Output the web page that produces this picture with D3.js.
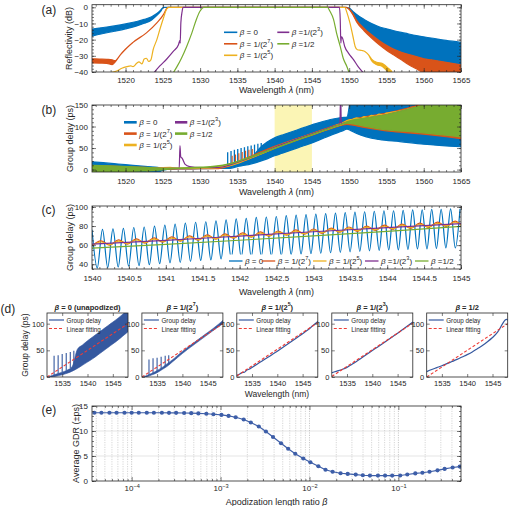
<!DOCTYPE html>
<html><head><meta charset="utf-8">
<script src="https://cdn.jsdelivr.net/npm/d3@7/dist/d3.min.js"></script>
<style>
html,body{margin:0;padding:0;background:#fff;}
svg{display:block;}
</style></head>
<body>
<svg id="chart" width="510" height="506"></svg>
<script>
// ===================== DATA =====================
const seriesColors = ['#0072BD','#D95319','#EDB120','#7E2F8E','#77AC30'];
const legendLabels = [
  [{t:'β',i:1},{t:' = 0'}],
  [{t:'β',i:1},{t:' = 1/(2'},{t:'7',s:1},{t:')'}],
  [{t:'β',i:1},{t:' = 1/(2'},{t:'5',s:1},{t:')'}],
  [{t:'β',i:1},{t:' =1/(2'},{t:'3',s:1},{t:')'}],
  [{t:'β',i:1},{t:' =1/2'}]
];

// (a) reflectivity, [wavelength nm, upper dB, lower dB]
const aXMajor = [1520,1525,1530,1535,1540,1545,1550,1555,1560,1565];
const aYMajor = [-40,-30,-20,-10,0];
const aBlue = [[1515.5,-13.5,-17.8],[1517,-12.5,-16.2],[1518.5,-11.5,-14.8],[1520,-10.3,-13.3],[1521.5,-8.8,-11.5],[1522.5,-7.5,-9.9],[1523.5,-5.8,-7.8],[1524.2,-3.8,-5],[1524.7,-1.8,-2.5],[1525.1,0,0],[1549.5,0,0],[1550,-0.5,-1],[1550.5,-2.5,-4],[1551,-4.5,-8],[1552,-7.5,-13],[1553,-10,-17],[1554,-12,-20.5],[1555,-13.3,-23.5],[1556,-14.5,-26],[1557.5,-16,-28.5],[1559,-17.5,-30.5],[1561,-19,-32.5],[1563,-20.5,-34],[1565,-21.7,-35.6]];
const aOrange = [[1515.5,-31.8,-34.3],[1516.5,-32,-34.5],[1517.5,-32.2,-34.7],[1518.2,-32.5,-35.4],[1518.6,-33,-33.8],[1519.3,-29.4,-29.4],[1521.0,-21.7,-21.7],[1522.8,-15.8,-15.8],[1524.2,-9.6,-9.6],[1525.1,-4.4,-4.4],[1525.5,-0.8,-0.8],[1525.7,0,0],[1549.6,0,0],[1550,-1,-1.3],[1550.5,-4,-4.6],[1551,-8,-9],[1552,-13,-14.5],[1553,-17,-19],[1554,-20.5,-23],[1555,-23.5,-26.5],[1556,-26,-29.5],[1557,-27.8,-32.5],[1558,-29.2,-35.5],[1559,-30.5,-38],[1560,-31.8,-40.5],[1561,-32.5,-42],[1563,-34,-42],[1565,-35.6,-42]];
const aYellow = [[1517.9,-40.5],[1518.8,-39.4],[1519.5,-37.7],[1520.2,-36.7],[1520.7,-36.25],[1521.0,-36.7],[1521.5,-34.6],[1521.8,-33.75],[1522.2,-35],[1522.5,-32],[1522.8,-31.5],[1523.1,-33.5],[1523.4,-32.5],[1523.7,-26.25],[1524.2,-20],[1524.6,-13.75],[1525.1,-6.5],[1525.5,-1.25],[1525.8,0],[1549.4,0],[1549.7,-3.3],[1550.1,-9.6],[1550.5,-17.9],[1550.8,-24.2],[1551.1,-26.25],[1551.7,-26.7],[1552.1,-27.3],[1552.6,-29.4],[1553.0,-32,-33],[1553.7,-34,-35.5],[1554.4,-34.6,-36.5],[1554.8,-35.8,-38],[1555.2,-37.5,-40],[1555.7,-39.5,-41]];
const aPurple = [[1523.8,-40.5],[1524.6,-36.25],[1525.5,-32.1],[1526.4,-27.3],[1527.1,-23.1],[1527.3,-20.4],[1527.33,-22.1],[1527.42,-9.6],[1527.6,-2.3],[1527.7,0],[1548.7,0],[1548.8,-7.5],[1548.88,-22.1],[1548.95,-18.3],[1549.1,-19],[1549.4,-24.2],[1549.9,-28.3],[1550.6,-32.5],[1551.2,-36.7],[1551.9,-40.5]];
const aGreen = [[1526.4,-40.5],[1526.9,-36.7],[1527.5,-31.5],[1528.2,-24.2],[1528.9,-15.8],[1529.5,-7.5],[1530.0,-2.3],[1530.5,0],[1547.1,0],[1547.4,-2.3],[1547.9,-7.5],[1548.3,-15.8],[1548.8,-24.2],[1549.2,-31.5],[1549.7,-36.7],[1550.0,-40.5]];

// (b) group delay, [wavelength, upper ps, lower ps]
const bYMajor = [0,50,100,150];
const bHighlight = [1540,1545];
const bBlue = [[1515.5,18,-8],[1517,16,-8],[1519,13,-8],[1521,10,-8],[1523,7,-8],[1524.3,5,-6],[1525.2,3,-1],[1526,2.5,1],[1528,2.5,1.5],[1530,3,2],[1532,4,2.5],[1533,6,3],[1534,12,3],[1535,17,7],[1536,22,10],[1537,30,14],[1538,50,19],[1539,64,25],[1540,74,32],[1541,80,38],[1542,86,44],[1543,92,50],[1544,98,56],[1545,104,62],[1546,109,69],[1547,114,76],[1548,118,83],[1549,121,89],[1549.7,122,94],[1550.3,170,90],[1551,170,84],[1552.3,170,76],[1554,170,70],[1556.8,170,65],[1560,170,59],[1565,170,53]];
const bBlueSpikes = [[1533.7,8,40],[1534.15,12,43],[1534.6,14,46],[1535.05,17,48],[1535.5,19,50],[1535.95,22,52],[1536.4,25,54],[1536.85,28,56],[1537.3,32,58],[1537.75,40,60],[1538.2,52,62]];
const bOrange = [[1515.5,9,1],[1518,8,1],[1521,6,1],[1524,4,0.5],[1525.5,3,1],[1528,3,1.5],[1530,3.5,2],[1532,4.5,2],[1533,7,4],[1534,12,9],[1535,18,15],[1536,25,21],[1537,32,28],[1538,40,35],[1539,47,42],[1540,54,49],[1541,60,56],[1542,66,62],[1543,72,68],[1544,78,74],[1545,84,80],[1546,90,86],[1547,96,92],[1548,102,98],[1549,108,103],[1549.7,113,105],[1552,122,98],[1555,131,90],[1557.5,141,86],[1559.6,151,83],[1565,163,72]];
const bOrangeSpikes = [[1534.3,11,32],[1534.75,13,35],[1535.2,16,38],[1535.65,19,41],[1536.1,22,44],[1536.55,26,46],[1537.0,30,48]];
const bYellow = [[1515.5,3,2],[1520,2.5,1.5],[1522.5,1.5,0.5],[1523,-2,-3],[1523.4,1.5,0.5],[1525,4.5,3.5],[1526,5,4],[1527,3.5,2.5],[1530,3.5,2.5],[1532,5,3.5],[1534,11,9],[1536,23,21],[1538,37,35],[1540,52,50],[1542,65,63],[1544,77,75],[1546,89,87],[1548,101,99],[1549.2,109,106],[1549.7,114,110],[1550.5,117,113],[1551,120,114],[1551.5,118,115],[1552,123,117],[1552.5,121,118],[1553,126,120],[1553.5,124,121],[1554,129,123],[1554.5,127,124],[1555,131,126],[1556,134,129],[1557,137,132],[1558,141,136],[1559,145,140],[1560,150,144],[1562,156,150],[1565,165,155]];
const bPurple = [[1515.5,4],[1520,3.5],[1525,3],[1527.2,3],[1527.3,56],[1527.4,30],[1527.6,26],[1528,12],[1528.6,7],[1530,4.5],[1532,4.5],[1533,6],[1534,11],[1536,23],[1538,37],[1540,52],[1542,65],[1544,77],[1546,89],[1548,101],[1548.75,105],[1548.85,170],[1548.95,107],[1549.7,110],[1552,118.5],[1555.1,127.5],[1557.5,137.5],[1559.6,147.5],[1565,160]];
const bGreen = [[1515.5,10,-6],[1518,8.5,-5],[1521,6.5,-4],[1524,4,-2],[1525.5,3,0.5],[1527,3.5,2.5],[1530,5.5,4.5],[1532,8,7],[1534,14,13],[1536,25,24],[1538,37,36],[1540,50,49],[1542,63,62],[1544,75.5,74.5],[1546,88,87],[1548,100,99],[1549.2,107,106],[1549.7,111,108],[1552,119,101],[1555.1,128,92],[1557.5,138,89],[1559.6,148,86],[1565,160,76]];

// (c) zoomed group delay
const cXMajor = [1540,1540.5,1541,1541.5,1542,1542.5,1543,1543.5,1544,1544.5,1545];
const cYMajor = [40,60,80,100];
const cBluePeaks = [[1540.000,76],[1540.142,76.5],[1540.284,77],[1540.425,77.5],[1540.566,78.5],[1540.707,79],[1540.847,80],[1540.987,81],[1541.126,82],[1541.265,83],[1541.404,84],[1541.542,84.5],[1541.680,85.5],[1541.817,86.5],[1541.954,87.5],[1542.090,88],[1542.226,89],[1542.362,89.5],[1542.497,90],[1542.632,91],[1542.766,91.5],[1542.900,92],[1543.033,92.5],[1543.166,93],[1543.299,93.5],[1543.431,94],[1543.563,94.5],[1543.694,95],[1543.825,95.5],[1543.956,96],[1544.086,96],[1544.216,96.5],[1544.345,97],[1544.474,97],[1544.603,97.5],[1544.731,97.5],[1544.859,98],[1544.987,98]];
const cBlueTroughs = [[1540.071,36],[1540.213,36.5],[1540.355,37],[1540.496,38],[1540.637,38.5],[1540.777,39.5],[1540.917,40.5],[1541.057,41.5],[1541.196,42],[1541.335,43],[1541.473,44],[1541.611,44.5],[1541.749,45.5],[1541.886,46],[1542.022,47],[1542.158,47.5],[1542.294,48],[1542.430,48.5],[1542.565,49],[1542.699,50],[1542.833,50.5],[1542.967,51],[1543.100,51.5],[1543.233,52],[1543.365,52.5],[1543.497,53],[1543.629,53.5],[1543.760,54],[1543.891,54.5],[1544.021,55],[1544.151,55],[1544.281,55.5],[1544.410,56],[1544.539,56],[1544.667,56.5],[1544.795,57],[1544.923,57]];
const cOscLam = [1540.00,1540.12,1540.24,1540.36,1540.48,1540.60,1540.72,1540.84,1540.96,1541.08,1541.20,1541.32,1541.44,1541.56,1541.68,1541.80,1541.92,1542.04,1542.16,1542.28,1542.40,1542.52,1542.64,1542.76,1542.88,1543.00,1543.12,1543.24,1543.36,1543.48,1543.60,1543.72,1543.84,1543.96,1544.08,1544.20,1544.32,1544.44,1544.56,1544.68,1544.80,1544.92,1545.00];
const cOrangeV = [59.0,64.5,60.0,65.5,61.1,66.6,62.1,67.6,63.1,68.6,64.2,69.7,65.2,70.7,66.2,71.7,67.3,72.8,68.3,73.8,69.3,74.8,70.4,75.9,71.4,76.9,72.4,77.9,73.5,79.0,74.5,80.0,75.5,81.0,76.6,82.1,77.6,83.1,78.6,84.1,79.7,85.2,81.0];
const cYellowV = [59.6,63.3,60.6,64.3,61.7,65.4,62.7,66.4,63.7,67.4,64.8,68.5,65.8,69.5,66.8,70.5,67.9,71.6,68.9,72.6,69.9,73.6,71.0,74.7,72.0,75.7,73.0,76.7,74.1,77.8,75.1,78.8,76.1,79.8,77.2,80.9,78.2,81.9,79.2,82.9,80.3,84.0,81.4];
const cPurple = [[1540,61],[1541,65],[1542,69.5],[1543,74],[1544,78.3],[1545,82.5]];
const cGreen = [[1540,56.8],[1541,60.8],[1542,65.1],[1543,69.6],[1544,74.4],[1545,79.6]];

// (d) five apodization cases: band [wavelength, upper, lower], spikes [wavelength, base, peak], fit
const dTitles = [
  [{t:'β',i:1},{t:' = 0 (unapodized)'}],
  [{t:'β',i:1},{t:' = 1/(2'},{t:'7',s:1},{t:')'}],
  [{t:'β',i:1},{t:' = 1/(2'},{t:'5',s:1},{t:')'}],
  [{t:'β',i:1},{t:' = 1/(2'},{t:'3',s:1},{t:')'}],
  [{t:'β',i:1},{t:' = 1/2'}]
];
const dXMajor = [1535,1540,1545];
const dYMajor = [0,50,100];
const dGD1 = [[1532.3,0.5,-1],[1533,3,0],[1534,6,2],[1535,9,4],[1536,13,7],[1537,20,11],[1538,52,16],[1539,60,22],[1540,68,28],[1541,75,34],[1542,82,41],[1543,89,48],[1544,96,55],[1545,103,62],[1546,110,69],[1547,118,77],[1548,126,85]];
const dGD2 = [[1532.3,0.5,-1],[1533,3,0.5],[1534,7,4],[1535,12,8],[1536,18,14],[1537,25,20],[1538,32,28],[1539,40,36],[1540,48,44],[1541,55.5,51.5],[1542,62.5,58.5],[1543,69.5,65.5],[1544,76.5,72.5],[1545,83.5,79.5],[1546,90.5,86.5],[1547,98,93.5],[1548,106,100]];
const dGD3 = [[1532,3],[1532.5,5],[1533,8],[1533.5,9],[1534,13],[1534.5,15],[1535,18],[1536,24],[1537,30],[1538,36],[1539,42],[1540,48.5],[1541,55],[1542,61.5],[1543,68],[1544,74.5],[1545,81],[1546,88],[1547,96],[1548,104]];
const dGD4 = [[1532,8],[1533,11],[1534,14],[1535,18],[1536,24],[1537,30],[1538,36.5],[1539,43],[1540,49.5],[1541,56],[1542,62.5],[1543,69],[1544,75.5],[1545,82],[1546,89],[1547,96],[1548,103]];
const dGD5 = [[1532,10],[1533,14],[1534,17.5],[1535,21],[1536,25],[1537,29],[1538,33],[1539,37.5],[1540,42],[1541,47],[1542,53],[1543,59],[1544,66],[1545,74],[1546,84],[1547,100],[1547.5,107],[1547.8,108],[1548,107]];
const dSpikes1 = [[1533.4,4,40],[1534.2,6,41],[1535.0,9,43],[1535.8,12,45],[1536.6,17,47],[1537.3,22,49]];
const dSpikes2 = [[1533.4,4,33],[1534.2,7,35],[1535.0,10,36],[1535.8,14,38],[1536.6,19,40],[1537.3,23,41]];
const dFit1 = [[1532,0],[1548,100]];
const dFit2 = [[1532,0],[1548,100]];
const dFit3 = [[1532,2],[1548,102]];
const dFit4 = [[1532,1],[1548,101]];
const dFit5 = [[1532,0],[1548,100]];

// (e) average group delay ripple vs apodization ratio
const eLogBeta = [-4.42,-4.34,-4.25,-4.17,-4.08,-4.00,-3.92,-3.83,-3.75,-3.66,-3.58,-3.50,-3.41,-3.33,-3.25,-3.16,-3.08,-2.99,-2.91,-2.83,-2.74,-2.66,-2.57,-2.49,-2.41,-2.32,-2.24,-2.16,-2.07,-1.99,-1.90,-1.82,-1.74,-1.65,-1.57,-1.48,-1.40,-1.32,-1.23,-1.15,-1.07,-0.98,-0.90,-0.81,-0.73,-0.65,-0.56,-0.48,-0.39,-0.31];
const eGDR = [13.65,13.65,13.65,13.65,13.65,13.65,13.65,13.65,13.65,13.65,13.64,13.63,13.6,13.57,13.52,13.45,13.35,13.22,13.02,12.75,12.3,11.7,10.9,9.9,8.8,7.55,6.45,5.45,4.5,3.75,2.95,2.25,1.85,1.55,1.42,1.28,1.15,1.09,1.08,1.08,1.08,1.1,1.3,1.52,1.65,1.85,2.13,2.42,2.7,2.88];
const eXMajor = [1e-4,1e-3,1e-2,1e-1];
const eXMinorMult = [2,3,4,5,6,7,8,9];
const eYMajor = [0,5,10,15];

// ===================== DRAWING =====================
const FONT = '"Liberation Sans", Arial, Helvetica, sans-serif';
const INK = '#262626';
const svg = d3.select('#chart').attr('font-family', FONT);
let clipN = 0;

function rich(sel, parts, fs){
  let up = false;
  parts.forEach(p => {
    const t = sel.append('tspan').text(p.t);
    if (p.i) t.attr('font-style','italic');
    if (p.s) { t.attr('font-size', fs*0.7).attr('dy', -fs*0.38); up = true; }
    else if (up) { t.attr('dy', fs*0.38); up = false; }
  });
}
function plotGroup(x, y){
  const [x0,x1] = x.range(), [yb,yt] = y.range();
  const id = 'clip' + (clipN++);
  svg.append('clipPath').attr('id', id).append('rect')
     .attr('x', x0).attr('y', yt).attr('width', x1-x0).attr('height', yb-yt);
  return svg.append('g').attr('clip-path', `url(#${id})`);
}
function axes(x, y, o){
  const [x0,x1] = x.range(), [yb,yt] = y.range();
  const g = svg.append('g');
  const tl = o.tl || 4, tm = o.tm || 2;
  const mk = (fn, sc, vals, size, tx, ty, fmt, pad) => {
    const a = fn(sc).tickValues(vals).tickSize(size).tickPadding(pad||3).tickFormat(fmt || (() => ''));
    const s = g.append('g').attr('transform', `translate(${tx},${ty})`).call(a);
    s.select('.domain').remove();
    s.attr('font-family', FONT).attr('font-size', o.fs || 8).attr('color', INK);
    s.selectAll('line').attr('stroke-width', 0.6);
    return s;
  };
  if (o.xMinor) { mk(d3.axisBottom, x, o.xMinor, -tm, 0, yb); mk(d3.axisTop, x, o.xMinor, -tm, 0, yt); }
  if (o.yMinor) { mk(d3.axisLeft, y, o.yMinor, -tm, x0, 0); mk(d3.axisRight, y, o.yMinor, -tm, x1, 0); }
  const bx = mk(d3.axisBottom, x, o.xMajor, -tl, 0, yb, o.xFmt || (d => d), o.px || 5);
  mk(d3.axisTop, x, o.xMajor, -tl, 0, yt);
  mk(d3.axisLeft, y, o.yMajor, -tl, x0, 0, o.yFmt || (d => d), o.py || 4);
  mk(d3.axisRight, y, o.yMajor, -tl, x1, 0);
  g.append('rect').attr('x', x0).attr('y', yt).attr('width', x1-x0).attr('height', yb-yt)
   .attr('fill','none').attr('stroke', INK).attr('stroke-width', 0.8);
  return bx;
}
function band(g, x, y, data, color, sw, curve){
  const ar = d3.area().x(d => x(d[0])).y1(d => y(d[1])).y0(d => y(d.length > 2 ? d[2] : d[1]))
    .curve(curve || d3.curveMonotoneX);
  g.append('path').datum(data).attr('d', ar).attr('fill', color).attr('stroke', color)
   .attr('stroke-width', sw).attr('stroke-linejoin','round');
}
function line(g, x, y, data, color, sw, curve, dash){
  const ln = d3.line().x(d => x(d[0])).y(d => y(d[1])).curve(curve || d3.curveMonotoneX);
  const p = g.append('path').datum(data).attr('d', ln).attr('fill','none').attr('stroke', color)
   .attr('stroke-width', sw).attr('stroke-linejoin','round');
  if (dash) p.attr('stroke-dasharray', dash);
}
function spikes(g, x, y, data, color, sw){
  data.forEach(s => line(g, x, y, [[s[0], s[1]], [s[0], s[2]]], color, sw, d3.curveLinear));
}
function text(xp, yp, str, fs, opts){
  opts = opts || {};
  const t = svg.append('text').attr('x', xp).attr('y', yp).attr('font-size', fs).attr('fill', INK)
    .attr('text-anchor', opts.anchor || 'middle').attr('dominant-baseline', 'central');
  if (opts.rot) t.attr('transform', `rotate(-90,${xp},${yp})`);
  if (opts.bold) t.attr('font-weight','bold');
  if (Array.isArray(str)) rich(t, str, fs); else t.text(str);
  return t;
}
function legendItem(x1, x2, yp, color, sw, parts, fs, dash){
  const l = svg.append('line').attr('x1', x1).attr('x2', x2).attr('y1', yp).attr('y2', yp)
    .attr('stroke', color).attr('stroke-width', sw);
  if (dash) l.attr('stroke-dasharray', dash);
  text(x2 + 2.5, yp, parts, fs, {anchor:'start'});
}
const minus = d => d < 0 ? '\u2212' + Math.abs(d) : String(d);

// ---------- (a) ----------
{
  const x = d3.scaleLinear().domain([1515.5,1565]).range([92,461]);
  const y = d3.scaleLinear().domain([-40,1.6]).range([72,4.7]);
  const g = plotGroup(x, y);
  [aBlue, aOrange, aYellow, aPurple, aGreen].forEach((s,i) => band(g, x, y, s, seriesColors[i], 1.2));
  axes(x, y, {xMajor:aXMajor, xMinor:d3.range(1516,1566,1), yMajor:aYMajor, yMinor:d3.range(-40,1,2), yFmt:minus, fs:8, px:5});
  text(69.5, 38.4, 'Reflectivity (dB)', 9, {rot:1});
  text(276.5, 89.5, [{t:'Wavelength '},{t:'λ',i:1},{t:' (nm)'}], 9);
  text(41.5, 10, '(a)', 12, {anchor:'start'});
  const rows = [32.3, 43.8, 55.3];
  [0,1,2].forEach(i => legendItem(224, 237.3, rows[i], seriesColors[i], 1.6, legendLabels[i], 8));
  [3,4].forEach((k,i) => legendItem(277.3, 289.3, rows[i], seriesColors[k], 1.6, legendLabels[k], 8));
}

// ---------- (b) ----------
{
  const x = d3.scaleLinear().domain([1515.5,1565]).range([92,461]);
  const y = d3.scaleLinear().domain([-5.6,150]).range([172,105]);
  const g = plotGroup(x, y);
  g.append('rect').attr('x', x(bHighlight[0])).attr('width', x(bHighlight[1]) - x(bHighlight[0]))
   .attr('y', 105).attr('height', 67).attr('fill', '#fbf5b5');
  band(g, x, y, bBlue, seriesColors[0], 1.2);
  spikes(g, x, y, bBlueSpikes, seriesColors[0], 1.3);
  band(g, x, y, bOrange, seriesColors[1], 1.2);
  spikes(g, x, y, bOrangeSpikes, seriesColors[1], 1.1);
  band(g, x, y, bYellow, seriesColors[2], 1.2);
  band(g, x, y, bPurple, seriesColors[3], 1.2);
  band(g, x, y, bGreen, seriesColors[4], 1.2);
  axes(x, y, {xMajor:aXMajor, xMinor:d3.range(1516,1566,1), yMajor:bYMajor, yMinor:d3.range(0,151,10), fs:8, px:6});
  text(70, 138.5, 'Group delay (ps)', 9, {rot:1});
  text(276.5, 192, [{t:'Wavelength '},{t:'λ',i:1},{t:' (nm)'}], 9);
  text(41.5, 110, '(b)', 12, {anchor:'start'});
  const rows = [122.3, 133.6, 145];
  [0,1,2].forEach(i => legendItem(124, 136.7, rows[i], seriesColors[i], 2.6, legendLabels[i], 8));
  [3,4].forEach((k,i) => legendItem(175, 187.3, rows[i], seriesColors[k], 2.6, legendLabels[k], 8));
}

// ---------- (c) ----------
{
  const x = d3.scaleLinear().domain([1540,1545]).range([92,461]);
  const y = d3.scaleLinear().domain([35,101]).range([269,206]);
  const g = plotGroup(x, y);
  const blue = cBluePeaks.concat(cBlueTroughs).sort((a,b) => a[0]-b[0]);
  line(g, x, y, blue, seriesColors[0], 1.2);
  line(g, x, y, cOscLam.map((l,i) => [l, cOrangeV[i]]), seriesColors[1], 1.2);
  line(g, x, y, cOscLam.map((l,i) => [l, cYellowV[i]]), seriesColors[2], 1.2);
  line(g, x, y, cPurple, seriesColors[3], 1.2);
  line(g, x, y, cGreen, seriesColors[4], 1.2);
  svg.append('rect').attr('x', 226).attr('y', 254.5).attr('width', 233).attr('height', 13.5).attr('fill', '#fff');
  axes(x, y, {xMajor:cXMajor, xMinor:d3.range(1540,1545.001,0.1), yMajor:cYMajor, yMinor:d3.range(35,101,5), fs:8, px:6});
  text(70, 237.5, 'Group delay (ps)', 9, {rot:1});
  text(276.5, 291.5, [{t:'Wavelength '},{t:'λ',i:1},{t:' (nm)'}], 9);
  text(41.5, 210, '(c)', 12, {anchor:'start'});
  const lx = [229, 261.7, 313, 365, 415];
  lx.forEach((v,i) => legendItem(v, v + 13.5, 261, seriesColors[i], 1.3, legendLabels[i], 8));
}

// ---------- (d) ----------
{
  const lefts = [47, 141.9, 236.8, 331.8, 426.7];
  const wid = 81;
  const bands = [dGD1, dGD2, dGD3, dGD4, dGD5];
  const spk = [dSpikes1, dSpikes2, [], [], []];
  const fits = [dFit1, dFit2, dFit3, dFit4, dFit5];
  const y = d3.scaleLinear().domain([0,120]).range([377,313]);
  const dBlue = '#35589f', dRed = '#ee3b36';
  lefts.forEach((L, i) => {
    const x = d3.scaleLinear().domain([1532,1548]).range([L, L + wid]);
    const g = plotGroup(x, y);
    band(g, x, y, bands[i], dBlue, i < 2 ? 0.6 : 1.2);
    spikes(g, x, y, spk[i], dBlue, 1.1);
    line(g, x, y, fits[i], dRed, 1.1, d3.curveLinear, '3,2');
    axes(x, y, {xMajor:dXMajor, yMajor:dYMajor, fs:7.5, tl:3, px:3.5, py:2.5});
    text(L + wid/2, 306.5, dTitles[i], 7.5, {bold:1});
    legendItem(L + 2, L + 17, 320, dBlue, 1.2, [{t:'Group delay'}], 6.3);
    legendItem(L + 2, L + 17, 328.5, dRed, 1.2, [{t:'Linear fitting'}], 6.3, '3,2');
  });
  text(25, 345, 'Group delay (ps)', 8.5, {rot:1});
  text(277, 393.5, 'Wavelength (nm)', 8.5);
  text(0.5, 308.5, '(d)', 12, {anchor:'start'});
}

// ---------- (e) ----------
{
  const x = d3.scaleLog().domain([Math.pow(10,-4.446), Math.pow(10,-0.296)]).range([92,461]);
  const y = d3.scaleLinear().domain([0,15]).range([481,406]);
  const [d0, d1] = x.domain();
  const minors = [];
  [-5,-4,-3,-2,-1].forEach(k => eXMinorMult.forEach(m => { const v = m * Math.pow(10,k); if (v > d0 && v < d1) minors.push(v); }));
  const grid = svg.append('g');
  [5,10].forEach(v => grid.append('line').attr('x1',92).attr('x2',461).attr('y1',y(v)).attr('y2',y(v))
    .attr('stroke','#dedede').attr('stroke-width',0.8));
  minors.forEach(v => grid.append('line').attr('x1',x(v)).attr('x2',x(v)).attr('y1',406).attr('y2',481)
    .attr('stroke','#c4c4c4').attr('stroke-width',0.7).attr('stroke-dasharray','1.2,1.2'));
  eXMajor.forEach(v => grid.append('line').attr('x1',x(v)).attr('x2',x(v)).attr('y1',406).attr('y2',481)
    .attr('stroke','#b0b0b0').attr('stroke-width',0.7).attr('stroke-dasharray','1.2,1.2'));
  const pts = eLogBeta.map((l,i) => [Math.pow(10,l), eGDR[i]]);
  const g = plotGroup(x, y);
  line(g, x, y, pts, '#3d5ea8', 1.2, d3.curveLinear);
  g.selectAll('circle.e').data(pts).enter().append('circle').attr('cx', d => x(d[0])).attr('cy', d => y(d[1]))
    .attr('r', 2.1).attr('fill', '#3d5ea8');
  const bx = axes(x, y, {xMajor:eXMajor, xMinor:minors, yMajor:eYMajor, yMinor:d3.range(0,16,1), fs:8, px:4});
  bx.selectAll('text').each(function(d){
    const t = d3.select(this); t.text('');
    rich(t, [{t:'10'},{t:'\u2212' + Math.round(-Math.log10(d)), s:1}], 8);
  });
  text(76, 443.5, 'Average GDR (±ps)', 9, {rot:1});
  text(276.5, 501.5, [{t:'Apodization length ratio '},{t:'β',i:1}], 9);
  text(41.5, 410, '(e)', 12, {anchor:'start'});
}
</script>
</body></html>
